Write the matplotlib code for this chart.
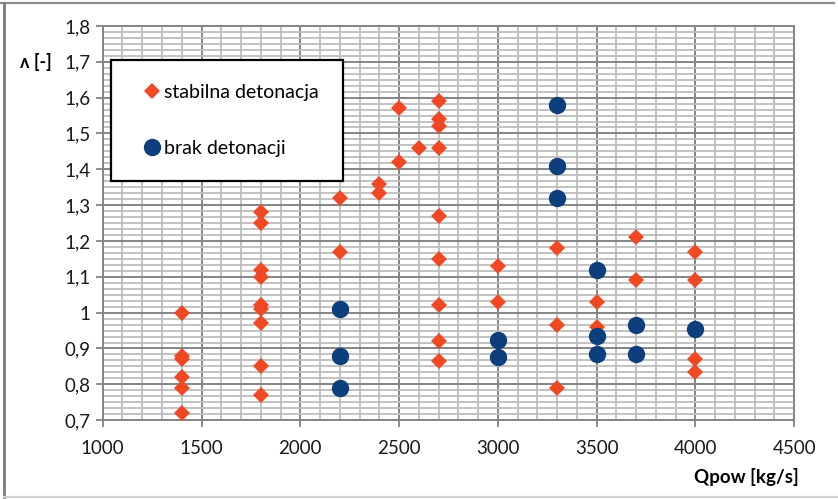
import matplotlib.pyplot as plt
from matplotlib.lines import Line2D
from matplotlib.ticker import MultipleLocator, FuncFormatter

plt.rcParams["font.family"] = ["Lato", "DejaVu Sans"]

# stabilna detonacja (red diamonds)
stab_x = [1400, 1400, 1400, 1400, 1400, 1400,
          1800, 1800, 1800, 1800, 1800, 1800, 1800, 1800, 1800,
          2200, 2200, 2400, 2400, 2500, 2500, 2600,
          2700, 2700, 2700, 2700, 2700, 2700, 2700, 2700, 2700,
          3000, 3000, 3300, 3300, 3300, 3500, 3500, 3700, 3700,
          4000, 4000, 4000, 4000]
stab_y = [1.00, 0.88, 0.87, 0.82, 0.79, 0.72,
          1.28, 1.25, 1.12, 1.10, 1.02, 1.01, 0.97, 0.85, 0.77,
          1.32, 1.17, 1.36, 1.335, 1.57, 1.42, 1.46,
          1.59, 1.54, 1.52, 1.46, 1.27, 1.15, 1.02, 0.92, 0.865,
          1.13, 1.03, 1.18, 0.965, 0.79, 1.03, 0.96, 1.21, 1.09,
          1.17, 1.09, 0.87, 0.835]

# brak detonacji (blue circles)
brak_x = [2200, 2200, 2200, 3000, 3000, 3300, 3300, 3300,
          3500, 3500, 3500, 3700, 3700, 4000]
brak_y = [1.01, 0.88, 0.79, 0.925, 0.875, 1.58, 1.41, 1.32,
          1.12, 0.935, 0.885, 0.965, 0.885, 0.955]

RED = "#EF4823"
BLUE = "#0C3F7C"

fig = plt.figure(figsize=(8.38, 4.99), dpi=100)
ax = fig.add_axes([0.1226, 0.158, 0.825, 0.790])

ax.plot(stab_x, stab_y, linestyle="none", marker="D", markersize=7.8,
        color=RED, markeredgewidth=0, zorder=3)
ax.plot(brak_x, brak_y, linestyle="none", marker="o", markersize=12.5,
        color=BLUE, markeredgewidth=0, zorder=3)

ax.set_xlim(1000, 4500)
ax.set_ylim(0.7, 1.8)
ax.xaxis.set_major_locator(MultipleLocator(500))
ax.xaxis.set_minor_locator(MultipleLocator(100))
ax.yaxis.set_major_locator(MultipleLocator(0.1))
ax.yaxis.set_minor_locator(MultipleLocator(0.1 / 6))


def comma_fmt(v, pos):
    s = f"{v:.1f}".rstrip("0").rstrip(".")
    return s.replace(".", ",")


ax.yaxis.set_major_formatter(FuncFormatter(comma_fmt))

ax.grid(which="minor", color="#bdbdbd", linewidth=1.3, zorder=0)
ax.grid(which="major", color="#858585", linewidth=1.4, zorder=1)
ax.set_axisbelow(True)
ax.tick_params(which="minor", length=0)
ax.tick_params(which="major", length=5, width=1.3, color="#858585",
               labelsize=13.5, labelcolor="#1a1a1a", pad=4)
ax.tick_params(axis="x", pad=9)
for s in ax.spines.values():
    s.set_color("#858585")
    s.set_linewidth(1.4)

fig.text(0.024, 0.876, "ʌ [-]", fontsize=13, fontweight="bold",
         ha="left", va="center")
fig.text(0.953, 0.044, "Qpow [kg/s]", fontsize=13.5, fontweight="bold",
         ha="right", va="center")

handles = [
    Line2D([], [], linestyle="none", marker="D", markersize=7.8, color=RED,
           markeredgewidth=0, label="stabilna detonacja"),
    Line2D([], [], linestyle="none", marker="o", markersize=12.5, color=BLUE,
           markeredgewidth=0, label="brak detonacji"),
]
leg = ax.legend(handles=handles, loc="upper left",
                bbox_to_anchor=(0.0116, 0.9145), fontsize=14,
                frameon=True, fancybox=False, edgecolor="black",
                framealpha=1, borderpad=1.25, labelspacing=2.0,
                handletextpad=-0.25, handlelength=1.75, borderaxespad=0)
leg.get_frame().set_linewidth(1.6)

# outer chart frame
fig.add_artist(Line2D([0.0, 0.995], [0.994, 0.994], color="#8c8c8c",
                      linewidth=1.6, transform=fig.transFigure))
fig.add_artist(Line2D([0.005, 0.005], [0.004, 0.994], color="#7a7a7a",
                      linewidth=2.0, transform=fig.transFigure))
fig.add_artist(Line2D([0.005, 1.0], [0.004, 0.004], color="#d0d0d0",
                      linewidth=1.6, transform=fig.transFigure))

fig.savefig("out.png", dpi=100)
